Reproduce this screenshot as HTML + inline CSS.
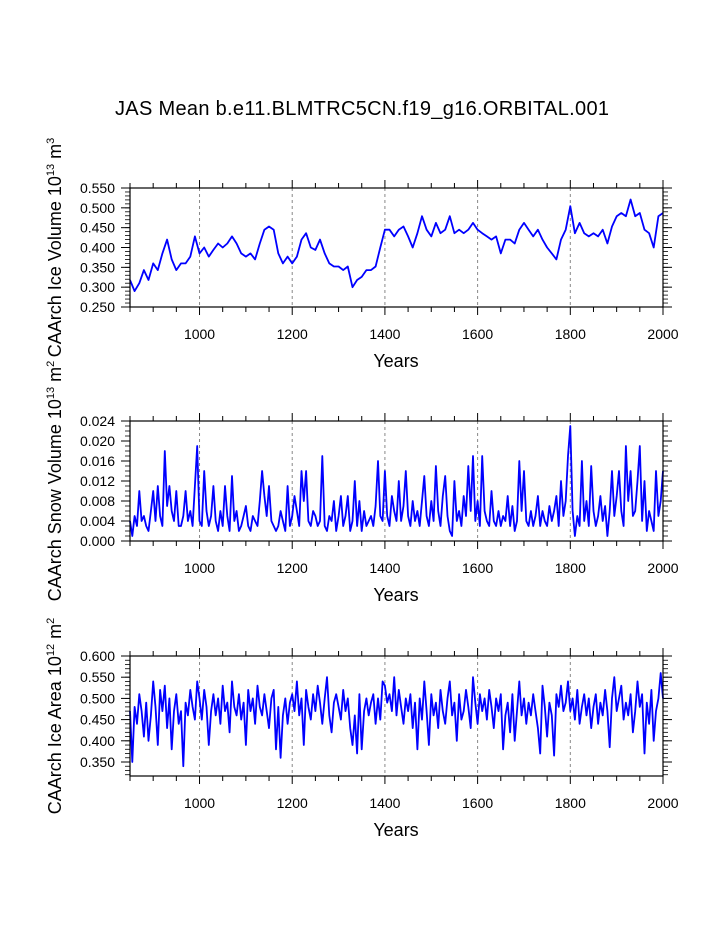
<!DOCTYPE html>
<html><head><meta charset="utf-8"><style>
body{margin:0;background:#fff}
svg{display:block;font-family:"Liberation Sans",sans-serif}
</style></head><body>
<svg id="c" width="723" height="935" viewBox="0 0 723 935">
<text x="362" y="115" font-size="20" text-anchor="middle" textLength="494">JAS Mean b.e11.BLMTRC5CN.f19_g16.ORBITAL.001</text>
</svg>
<script>
const iceVolStart = 850, iceVolStep = 10;
const iceVolume = [0.318,0.29,0.31,0.343,0.318,0.36,0.343,0.385,0.42,0.37,0.343,0.36,0.36,0.377,0.428,0.385,0.40,0.377,0.394,0.41,0.40,0.41,0.428,0.41,0.385,0.377,0.385,0.37,0.41,0.445,0.453,0.445,0.385,0.36,0.377,0.36,0.377,0.42,0.436,0.40,0.394,0.42,0.385,0.36,0.352,0.352,0.343,0.352,0.30,0.318,0.326,0.343,0.343,0.352,0.40,0.445,0.445,0.428,0.445,0.453,0.428,0.40,0.436,0.479,0.445,0.428,0.462,0.436,0.445,0.479,0.436,0.445,0.436,0.445,0.462,0.445,0.436,0.428,0.42,0.428,0.385,0.42,0.42,0.41,0.445,0.462,0.445,0.428,0.445,0.42,0.40,0.385,0.37,0.42,0.445,0.504,0.436,0.462,0.436,0.428,0.436,0.428,0.445,0.41,0.453,0.479,0.487,0.479,0.521,0.479,0.487,0.445,0.436,0.40,0.479,0.487];
const snowStart = 850, snowStep = 5;
const snowVolume = [4,1,5,3,10,4,5,3,2,6, 10,4,11,5,3,18,7,11,6,4, 10,3,3,5,10,4,6,3,11,19, 4,3,14,6,3,5,11,4,2,6, 3,11,5,2,13,4,6,2,3,5, 7,3,2,5,4,3,8,14,9,5, 11,4,3,2,3,6,4,2,11,3, 5,9,6,3,14,8,14,4,3,6, 5,3,4,17,3,2,5,4,8,2, 5,9,3,5,9,2,4,12,3,8, 2,6,3,4,5,3,7,16,5,4,
14,5,3,9,6,4,12,4,7,14, 5,3,8,4,6,3,8,13,5,3, 8,4,15,6,3,9,13,5,2,1, 12,4,6,3,9,5,15,6,17,4, 8,3,17,6,4,3,10,4,3,6, 3,5,4,9,3,7,2,4,16,6, 14,4,3,6,3,5,9,3,6,4, 3,7,4,6,9,3,12,5,8,17, 23,6,1,5,3,16,4,8,3,15, 6,3,5,9,4,7,1,6,14,5, 9,14,6,3,19,8,14,5,6,12, 19,4,12,2,6,4,2,14,5,8, 14];
const areaStart = 850, areaStep = 5;
const iceArea = [470,350,480,440,510,470,410,490,400,460, 540,480,390,520,470,530,430,500,380,470, 510,440,470,340,490,460,520,480,450,540, 500,450,520,480,390,470,510,460,500,440, 530,470,490,420,540,480,460,510,450,490, 390,520,470,500,440,530,480,460,510,470, 430,500,520,380,480,360,460,500,440,490, 510,470,540,460,500,390,520,480,450,510, 470,530,490,440,500,550,460,420,490,510, 480,450,520,470,500,430,390,460,370,510, 380,470,500,460,490,510,440,500,450,540,
530,490,510,470,550,460,520,480,440,500, 470,510,430,490,380,500,450,540,470,390, 510,460,490,430,520,470,440,500,540,460, 490,400,510,450,470,520,480,430,550,490, 440,510,470,500,450,520,480,430,500,470, 510,380,460,490,420,510,400,470,540,460, 500,440,490,460,510,470,430,370,530,480, 410,490,460,365,510,480,530,470,490,540, 470,500,450,520,440,480,510,460,500,430, 480,510,440,490,460,520,470,385,500,550, 470,500,530,450,490,460,510,420,470,540, 480,510,370,490,440,520,400,470,500,560, 500];
const xTicks = [1000,1200,1400,1600,1800,2000];
const iceVolTicks = ["0.250","0.300","0.350","0.400","0.450","0.500","0.550"];
const snowTicks = ["0.000","0.004","0.008","0.012","0.016","0.020","0.024"];
const areaTicks = ["0.350","0.400","0.450","0.500","0.550","0.600"];

const NS="http://www.w3.org/2000/svg";
const svg=document.getElementById('c');
function mk(tag,attrs,parent){const e=document.createElementNS(NS,tag);for(const k in attrs)e.setAttribute(k,attrs[k]);(parent||svg).appendChild(e);return e;}
const X0=130,X1=663,XMIN=850,XMAX=2000;
const xs=v=>X0+(v-XMIN)/(XMAX-XMIN)*(X1-X0);

function panel(name,top,bot,ymin,ymax,ticks,minorStep,vals,start,step,scale,labelParts){
  const g=mk('g',{});
  
  
  const ys=v=>bot-(v-ymin)/(ymax-ymin)*(bot-top);
  xTicks.slice(0,5).forEach(t=>{const l=mk('line',{x1:xs(t),x2:xs(t),y1:top,y2:bot,stroke:'#888','stroke-width':1,'stroke-dasharray':'3,3'},g);
    
    });
  for(let t=XMIN;t<=XMAX;t+=50){const major=t%200===0;const L=major?8:5;
    mk('line',{x1:xs(t),x2:xs(t),y1:bot,y2:bot+L,stroke:'#000','stroke-width':1},g);
    mk('line',{x1:xs(t),x2:xs(t),y1:top,y2:top-L,stroke:'#000','stroke-width':1},g);}
  xTicks.forEach(t=>{const tx=mk('text',{x:xs(t),y:bot+32,'font-size':14,'text-anchor':'middle'},g);tx.textContent=t;
    
    });
  const yt=mk('text',{x:396,y:bot+60,'font-size':18,'text-anchor':'middle'},g);yt.textContent='Years';
  
  
  const nmin=Math.ceil(ymin/minorStep-1e-6);
  for(let i=nmin;i*minorStep<=ymax+1e-9;i++){const v=i*minorStep;
    mk('line',{x1:X0,x2:X0-5,y1:ys(v),y2:ys(v),stroke:'#000','stroke-width':0.8},g);
    mk('line',{x1:X1,x2:X1+5,y1:ys(v),y2:ys(v),stroke:'#000','stroke-width':0.8},g);}
  ticks.forEach(s=>{const v=parseFloat(s);
    mk('line',{x1:X0,x2:X0-9,y1:ys(v),y2:ys(v),stroke:'#000','stroke-width':1},g);
    mk('line',{x1:X1,x2:X1+9,y1:ys(v),y2:ys(v),stroke:'#000','stroke-width':1},g);
    const tx=mk('text',{x:115,y:ys(v)+5,'font-size':14,'text-anchor':'end'},g);tx.textContent=s;
    
    });
  const pts=vals.map((v,i)=>xs(start+i*step).toFixed(1)+','+ys(v*scale).toFixed(1)).join(' ');
  const pl=mk('polyline',{points:pts,fill:'none',stroke:'#0000ff','stroke-width':1.8,'stroke-linejoin':'round'},g);
  
  
  mk('rect',{x:X0,y:top,width:X1-X0,height:bot-top,fill:'none',stroke:'#000','stroke-width':1.2},g);
  const cy=(top+bot)/2;
  const yl=mk('text',{x:0,y:0,'font-size':18,'text-anchor':'middle',transform:`translate(61,${cy}) rotate(-90)`},g);
  
  
  labelParts.forEach(p=>{const ts=mk('tspan',p.sup?{'font-size':11,dy:-7}:{'dy':p.down?7:0},yl);ts.textContent=p.t;});
}
panel('ice-volume',188,307,0.25,0.55,iceVolTicks,0.01,iceVolume,iceVolStart,iceVolStep,1,
  [{t:'CAArch Ice Volume 10'},{t:'13',sup:1},{t:' m',down:1},{t:'3',sup:1}]);
panel('snow-volume',421,541,0,0.024,snowTicks,0.001,snowVolume,snowStart,snowStep,0.001,
  [{t:'CAArch Snow Volume 10'},{t:'13',sup:1},{t:' m',down:1},{t:'2',sup:1}]);
panel('ice-area',656,776,0.317,0.6,areaTicks,0.01,iceArea,areaStart,areaStep,0.001,
  [{t:'CAArch Ice Area 10'},{t:'12',sup:1},{t:' m',down:1},{t:'2',sup:1}]);
</script>
</body></html>
